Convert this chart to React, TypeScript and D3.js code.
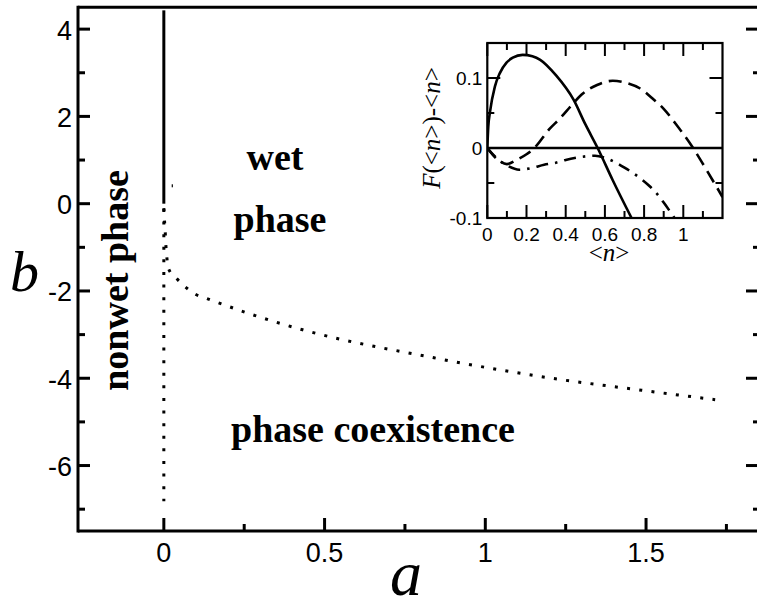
import React from "react";
import * as d3 from "d3";

// ---------- main plot data ----------
const aMajorTicks = [0, 0.5, 1, 1.5];
const aMinorTicks = [0.25, 0.75, 1.25, 1.75];
const aTickLabels = ["0", "0.5", "1", "1.5"];
const bMajorTicks = [-6, -4, -2, 0, 2, 4];
const bMinorTicks = [-7, -5, -3, -1, 1, 3];
const bTickLabels = ["-6", "-4", "-2", "0", "2", "4"];

// solid boundary (a = 0, b >= 0)
const solidA = [0, 0];
const solidB = [4.43, 0];
// dotted vertical boundary (a = 0, b < 0)
const dotVertA = [0, 0];
const dotVertB = [-0.12, -6.82];
// dotted coexistence curve
const coexA = [0.0, 0.0016, 0.004, 0.006, 0.009, 0.014, 0.038, 0.066, 0.097, 0.133, 0.27, 0.432, 0.546, 0.662, 0.776, 0.932, 1.087, 1.243, 1.398, 1.554, 1.715];
const coexB = [-0.1, -0.33, -0.6, -0.91, -1.2, -1.48, -1.7, -1.9, -2.07, -2.17, -2.53, -2.89, -3.1, -3.28, -3.44, -3.66, -3.86, -4.04, -4.19, -4.34, -4.49];
// stray point
const strayA = [0.026];
const strayB = [0.41];

// ---------- inset data ----------
const nMajorTicks = [0, 0.2, 0.4, 0.6, 0.8, 1];
const nTickLabels = ["0", "0.2", "0.4", "0.6", "0.8", "1"];
const nMinorTicks = [0.1, 0.3, 0.5, 0.7, 0.9, 1.1];
const fMajorTicks = [-0.1, 0, 0.1];
const fTickLabels = ["-0.1", "0", "0.1"];
const fMinorTicks = [-0.05, 0.05];

const solidN = [0, 0.005, 0.014, 0.039, 0.064, 0.098, 0.13, 0.18, 0.23, 0.27, 0.35, 0.44, 0.5, 0.563, 0.64, 0.736];
const solidF = [0, 0.03, 0.052, 0.088, 0.107, 0.122, 0.129, 0.133, 0.131, 0.126, 0.104, 0.069, 0.034, 0, -0.046, -0.1];
const dashN = [0, 0.05, 0.1, 0.15, 0.2, 0.24, 0.32, 0.37, 0.43, 0.48, 0.56, 0.64, 0.72, 0.78, 0.85, 0.9, 0.96, 1.05, 1.12, 1.2];
const dashF = [0, -0.016, -0.023, -0.017, -0.009, 0, 0.028, 0.042, 0.061, 0.076, 0.09, 0.096, 0.092, 0.085, 0.069, 0.056, 0.035, 0, -0.032, -0.07];
const dashDotN = [0, 0.05, 0.107, 0.163, 0.22, 0.29, 0.35, 0.4, 0.5, 0.55, 0.6, 0.65, 0.7, 0.77, 0.83, 0.87, 0.9, 0.955];
const dashDotF = [0, -0.015, -0.026, -0.031, -0.029, -0.024, -0.021, -0.017, -0.012, -0.011, -0.014, -0.02, -0.028, -0.041, -0.055, -0.067, -0.078, -0.1];
const zeroN = [0, 1.2];
const zeroF = [0, 0];

const SANS = "'Liberation Sans', Arial, sans-serif";
const SERIF = "'Liberation Serif', 'Times New Roman', serif";

export default function App() {
  const W = 757, H = 606;
  const x = d3.scaleLinear().domain([-0.267, 1.847]).range([78, 757.6]);
  const y = d3.scaleLinear().domain([-7.5, 4.5]).range([531, 7.3]);
  const x0 = x.range()[0], x1 = x.range()[1];
  const y0 = y.range()[0], y1 = y.range()[1];
  const xr = 760; // right frame line lies just beyond the picture edge

  const ix = d3.scaleLinear().domain([0, 1.2]).range([487.3, 722.5]);
  const iy = d3.scaleLinear().domain([-0.1, 0.15]).range([218, 43]);
  const ix0 = ix.range()[0], ix1 = ix.range()[1];
  const iy0 = iy.range()[0], iy1 = iy.range()[1];

  const mainLine = (as: number[], bs: number[], curve: any = d3.curveLinear) =>
    d3.line<number>().x((_, i) => x(as[i])).y((_, i) => y(bs[i])).curve(curve)(as) || "";
  const insetLine = (ns: number[], fs: number[]) =>
    d3.line<number>().x((_, i) => ix(ns[i])).y((_, i) => iy(fs[i])).curve(d3.curveMonotoneX)(ns) || "";

  return (
    <svg width={W} height={H} style={{ position: "absolute", left: 0, top: 0, background: "#fff" }}>
      <defs>
        <clipPath id="insetClip">
          <rect x={ix0} y={iy1} width={ix1 - ix0} height={iy0 - iy1} />
        </clipPath>
      </defs>
      {/* main frame */}
      <g stroke="#000" strokeWidth={3} fill="none">
        <line x1={x0} y1={y0 + 1.5} x2={x0} y2={y1 - 1.5} />
        <line x1={x0} y1={y1} x2={xr} y2={y1} />
        <line x1={x0} y1={y0} x2={xr} y2={y0} />
        <line x1={xr} y1={y0} x2={xr} y2={y1} />
      </g>
      {/* ticks */}
      <g stroke="#000" strokeWidth={3}>
        {bMajorTicks.map((v) => (
          <g key={"bM" + v}>
            <line x1={x0} x2={x0 + 12} y1={y(v)} y2={y(v)} />
            <line x1={xr} x2={xr - 14} y1={y(v)} y2={y(v)} />
          </g>
        ))}
        {bMinorTicks.map((v) => (
          <g key={"bm" + v}>
            <line x1={x0} x2={x0 + 7} y1={y(v)} y2={y(v)} />
            <line x1={xr} x2={xr - 7} y1={y(v)} y2={y(v)} />
          </g>
        ))}
        {aMajorTicks.map((v) => (
          <line key={"aM" + v} x1={x(v)} x2={x(v)} y1={y0} y2={y0 - 13} />
        ))}
        {aMinorTicks.map((v) => (
          <line key={"am" + v} x1={x(v)} x2={x(v)} y1={y0} y2={y0 - 7} />
        ))}
      </g>
      {/* tick labels */}
      <g fontFamily={SANS} fontSize={27} fill="#000">
        {bMajorTicks.map((v, i) => (
          <text key={"bl" + v} x={72} y={y(v) + 10.5} textAnchor="end">{bTickLabels[i]}</text>
        ))}
        {aMajorTicks.map((v, i) => (
          <text key={"al" + v} x={x(v)} y={562} textAnchor="middle">{aTickLabels[i]}</text>
        ))}
      </g>
      {/* axis labels */}
      <text x={406} y={595} textAnchor="middle" fontFamily={SERIF} fontStyle="italic" fontSize={64}>a</text>
      <text x={10} y={291} fontFamily={SERIF} fontStyle="italic" fontSize={58}>b</text>

      {/* phase boundaries */}
      <path d={mainLine(solidA, solidB)} stroke="#000" strokeWidth={3} fill="none" />
      <path d={mainLine(dotVertA, dotVertB)} stroke="#000" strokeWidth={3} strokeDasharray="3 9.6" fill="none" />
      <path d={mainLine(coexA, coexB, d3.curveMonotoneX)} stroke="#000" strokeWidth={3} strokeDasharray="3 9.3" fill="none" />
      {strayA.map((a, i) => (
        <rect key={"s" + i} x={x(a) - 0.5} y={y(strayB[i]) - 1.5} width={1.2} height={3} fill="#000" />
      ))}

      {/* region labels */}
      <g fontFamily={SERIF} fontWeight="bold" fontSize={38} fill="#000">
        <text x={275} y={170} textAnchor="middle">wet</text>
        <text x={280} y={232} textAnchor="middle">phase</text>
        <text x={373} y={442} textAnchor="middle">phase coexistence</text>
        <text transform={`translate(128,280.5) rotate(-90)`} textAnchor="middle">nonwet phase</text>
      </g>

      {/* inset */}
      <rect x={ix0} y={iy1} width={ix1 - ix0} height={iy0 - iy1} fill="#fff" stroke="none" />
      <g clipPath="url(#insetClip)" fill="none" stroke="#000" strokeWidth={2.6}>
        <path d={insetLine(zeroN, zeroF)} />
        <path d={insetLine(solidN, solidF)} />
        <path d={insetLine(dashN, dashF)} strokeDasharray="13 7" />
        <path d={insetLine(dashDotN, dashDotF)} strokeDasharray="12 7 2.5 7" />
      </g>
      <g stroke="#000" strokeWidth={2}>
        {nMajorTicks.map((v) => (
          <g key={"nM" + v}>
            <line x1={ix(v)} x2={ix(v)} y1={iy0} y2={iy0 - 13} />
            <line x1={ix(v)} x2={ix(v)} y1={iy1} y2={iy1 + 13} />
          </g>
        ))}
        {nMinorTicks.map((v) => (
          <g key={"nm" + v}>
            <line x1={ix(v)} x2={ix(v)} y1={iy0} y2={iy0 - 7} />
            <line x1={ix(v)} x2={ix(v)} y1={iy1} y2={iy1 + 7} />
          </g>
        ))}
        {fMajorTicks.map((v) => (
          <g key={"fM" + v}>
            <line x1={ix0} x2={ix0 + 13} y1={iy(v)} y2={iy(v)} />
            <line x1={ix1} x2={ix1 - 13} y1={iy(v)} y2={iy(v)} />
          </g>
        ))}
        {fMinorTicks.map((v) => (
          <g key={"fm" + v}>
            <line x1={ix0} x2={ix0 + 7} y1={iy(v)} y2={iy(v)} />
            <line x1={ix1} x2={ix1 - 7} y1={iy(v)} y2={iy(v)} />
          </g>
        ))}
      </g>
      <rect x={ix0} y={iy1} width={ix1 - ix0} height={iy0 - iy1} fill="none" stroke="#000" strokeWidth={2.2} />
      <g fontFamily={SANS} fontSize={19} fill="#000">
        {fMajorTicks.map((v, i) => (
          <text key={"fl" + v} x={ix0 - 5} y={iy(v) + 7} textAnchor="end">{fTickLabels[i]}</text>
        ))}
        {nMajorTicks.map((v, i) => (
          <text key={"nl" + v} x={ix(v)} y={241} textAnchor="middle">{nTickLabels[i]}</text>
        ))}
      </g>
      <text transform={`translate(440,128) rotate(-90)`} textAnchor="middle" fontFamily={SERIF} fontSize={25}>
        <tspan fontStyle="italic">F</tspan>
        <tspan>(&lt;</tspan>
        <tspan fontStyle="italic">n</tspan>
        <tspan>&gt;)-&lt;</tspan>
        <tspan fontStyle="italic">n</tspan>
        <tspan>&gt;</tspan>
      </text>
      <text x={609} y={261} textAnchor="middle" fontFamily={SERIF} fontSize={25}>
        <tspan>&lt;</tspan>
        <tspan fontStyle="italic">n</tspan>
        <tspan>&gt;</tspan>
      </text>
    </svg>
  );
}
